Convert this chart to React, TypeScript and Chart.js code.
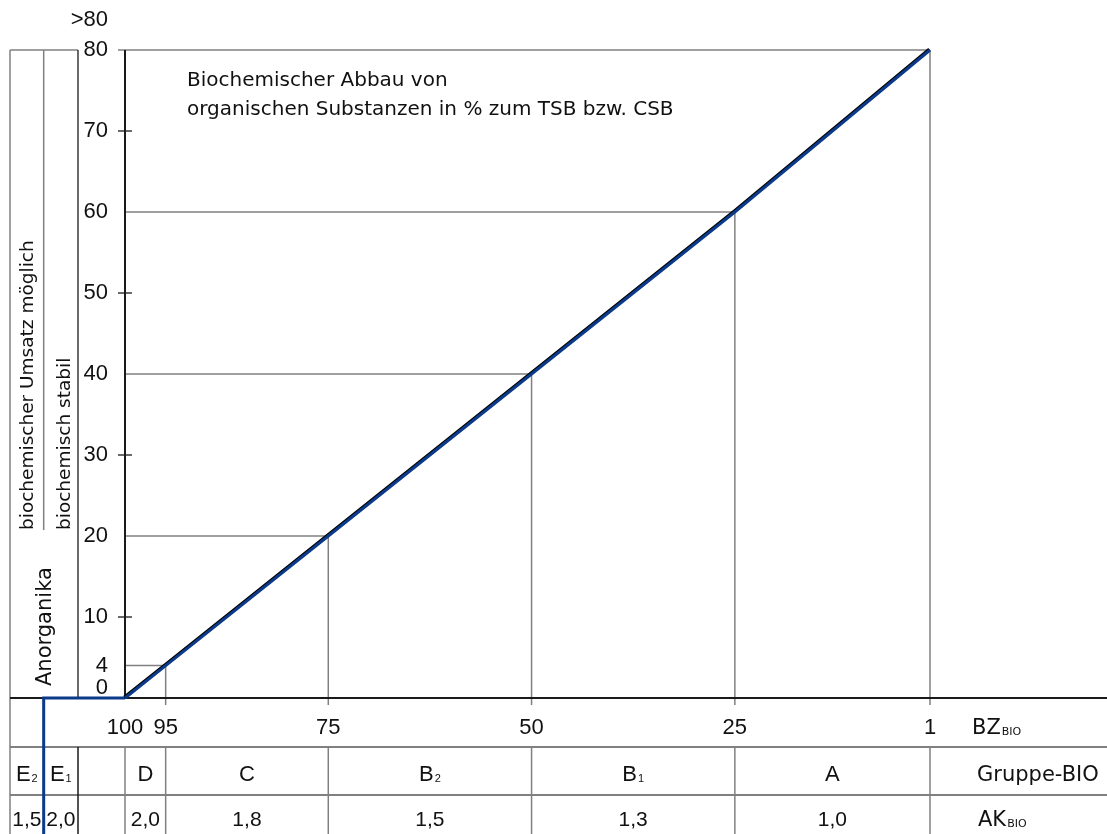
import React, { useEffect, useRef } from 'react';
import { Chart, registerables } from 'chart.js';

Chart.register(...registerables);

// ---- data ----
const bzValues = [100, 95, 75, 50, 25, 1];
const abbauPercent = [0, 4, 20, 40, 60, 80];
const anorgX = [110, 110, 100];
const anorgY = [-20, 0, 0];
const xTickValues = [100, 95, 75, 50, 25, 1];
const yTickValues = [4, 10, 20, 30, 40, 50, 60, 70, 80];
const yMinorTicks = [10, 30, 50, 70];
const groupNames = ['D', 'C', 'B_2', 'B_1', 'A'];
const akValues = ['2,0', '1,8', '1,5', '1,3', '1,0'];
const eGroupNames = ['E_2', 'E_1'];
const eAkValues = ['1,5', '2,0'];
const titleLines = ['Biochemischer Abbau von', 'organischen Substanzen in % zum TSB bzw. CSB'];

const FONT = '"DejaVu Sans", sans-serif';
const NUMFONT = '"Liberation Sans", Arial, sans-serif';
const GRAY = '#808080';
const BLACK = '#1a1a1a';
const BLUE = '#0b3a8a';

function line(ctx: CanvasRenderingContext2D, x1: number, y1: number, x2: number, y2: number, color: string, w: number) {
  ctx.save();
  ctx.strokeStyle = color;
  ctx.lineWidth = w;
  ctx.beginPath();
  ctx.moveTo(x1, y1);
  ctx.lineTo(x2, y2);
  ctx.stroke();
  ctx.restore();
}

function drawSub(ctx: CanvasRenderingContext2D, label: string, x: number, cy: number, size: number, align: 'center' | 'left', family: string) {
  const [base, sub] = label.split('_');
  ctx.save();
  ctx.fillStyle = '#111';
  ctx.textBaseline = 'alphabetic';
  ctx.textAlign = 'left';
  ctx.font = `${size}px ${family}`;
  const bw = ctx.measureText(base).width;
  const subSize = Math.round(size * 0.5);
  ctx.font = `${subSize}px ${family}`;
  const sw = sub ? ctx.measureText(sub).width : 0;
  const total = bw + (sub ? sw + 1 : 0);
  const sx = align === 'center' ? x - total / 2 : x;
  const baseline = cy + size * 0.36;
  ctx.font = `${size}px ${family}`;
  ctx.fillText(base, sx, baseline);
  if (sub) {
    ctx.font = `${subSize}px ${family}`;
    ctx.fillText(sub, sx + bw + 1, baseline + 1);
  }
  ctx.restore();
}

const framePlugin = {
  id: 'frame',
  beforeDatasetsDraw(chart: any) {
    const ctx: CanvasRenderingContext2D = chart.ctx;
    const xs = chart.scales.x;
    const ys = chart.scales.y;
    const X = (v: number) => xs.getPixelForValue(v);
    const Y = (v: number) => ys.getPixelForValue(v);
    const ca = chart.chartArea;
    const W = chart.width;
    const H = chart.height;
    const leftEdge = 10;
    const row1 = ca.bottom;
    const row2 = ca.bottom + 49;
    const row3 = ca.bottom + 97;
    const boxRight = 78;

    // reference lines
    for (let i = 1; i < bzValues.length; i++) {
      const px = X(bzValues[i]);
      const py = Y(abbauPercent[i]);
      const startX = i === bzValues.length - 1 ? ca.left - 7 : X(100);
      line(ctx, startX, py, px, py, GRAY, 1.5);
      line(ctx, px, py, px, row1 + 7, GRAY, 1.5);
    }
    // y axis ticks
    yMinorTicks.forEach((v) => line(ctx, ca.left - 7, Y(v), ca.left + 7, Y(v), BLACK, 1.3));
    // y axis
    line(ctx, X(100), Y(80), X(100), Y(0), BLACK, 2);

    // left box
    line(ctx, leftEdge, Y(80), boxRight, Y(80), GRAY, 1.5);
    line(ctx, leftEdge, Y(80), leftEdge, H, GRAY, 1.5);
    line(ctx, X(110), Y(80), X(110), 530, GRAY, 1.5);
    line(ctx, boxRight, Y(80), boxRight, row1, BLACK, 1.3);

    // table rows
    line(ctx, leftEdge, row2, W, row2, GRAY, 2);
    line(ctx, leftEdge, row3, W, row3, GRAY, 2);
    // table columns
    const cols = [X(110), boxRight, ...bzValues.map((v) => X(v))];
    cols.forEach((cx, i) => line(ctx, cx, row2, cx, H, i === 1 ? BLACK : GRAY, 1.5));
    // x baseline
    line(ctx, leftEdge, row1, W, row1, BLACK, 2.2);
  },
  beforeDatasetDraw(chart: any, args: any) {
    if (args.index === 0) {
      const ctx = chart.ctx;
      ctx.save();
      ctx.shadowColor = '#000';
      ctx.shadowOffsetX = -0.8;
      ctx.shadowOffsetY = -0.8;
      ctx.shadowBlur = 0;
    }
  },
  afterDatasetDraw(chart: any, args: any) {
    if (args.index === 0) chart.ctx.restore();
  },
  afterDraw(chart: any) {
    const ctx: CanvasRenderingContext2D = chart.ctx;
    const xs = chart.scales.x;
    const ys = chart.scales.y;
    const X = (v: number) => xs.getPixelForValue(v);
    const Y = (v: number) => ys.getPixelForValue(v);
    const ca = chart.chartArea;
    const row1 = ca.bottom;
    const boxRight = 78;
    const leftEdge = 10;

    ctx.save();
    ctx.fillStyle = '#111';
    // extra y labels
    ctx.font = `22px ${NUMFONT}`;
    ctx.textAlign = 'right';
    ctx.textBaseline = 'middle';
    ctx.fillText('>80', ca.left - 17, Y(80) - 30);
    ctx.fillText('0', ca.left - 17, Y(0) - 10);

    // title
    ctx.textAlign = 'left';
    ctx.font = `20px ${FONT}`;
    ctx.fillText(titleLines[0], 187, 81);
    ctx.fillText(titleLines[1], 187, 110);

    // rotated labels
    const rot = (text: string, x: number, y: number, size: number) => {
      ctx.save();
      ctx.translate(x, y);
      ctx.rotate(-Math.PI / 2);
      ctx.textAlign = 'left';
      ctx.textBaseline = 'alphabetic';
      ctx.font = `${size}px ${FONT}`;
      ctx.fillText(text, 0, 0);
      ctx.restore();
    };
    rot('biochemischer Umsatz möglich', 33, 530, 18.5);
    rot('biochemisch stabil', 70, 530, 18.5);
    rot('Anorganika', 51, 686, 21);
    ctx.restore();

    // table texts
    const r1 = row1 + 28;
    const r2 = row1 + 75;
    const r3 = row1 + 120;
    drawSub(ctx, 'BZ_BIO', 972, r1, 21, 'left', FONT);
    drawSub(ctx, 'Gruppe-BIO', 977, r2, 21, 'left', FONT);
    drawSub(ctx, 'AK_BIO', 978, r3, 21, 'left', FONT);

    const eCols = [leftEdge, X(110), boxRight];
    eGroupNames.forEach((g, i) => {
      const cx = (eCols[i] + eCols[i + 1]) / 2;
      drawSub(ctx, g, cx, r2, 22, 'center', NUMFONT);
      drawSub(ctx, eAkValues[i], cx, r3, 21, 'center', NUMFONT);
    });
    groupNames.forEach((g, i) => {
      const cx = (X(bzValues[i]) + X(bzValues[i + 1])) / 2;
      drawSub(ctx, g, cx, r2, 22, 'center', NUMFONT);
      drawSub(ctx, akValues[i], cx, r3, 21, 'center', NUMFONT);
    });
  },
};

export default function App() {
  const ref = useRef<HTMLCanvasElement | null>(null);
  useEffect(() => {
    if (!ref.current) return;
    const chart = new Chart(ref.current, {
      type: 'line',
      data: {
        datasets: [
          {
            data: bzValues.map((x, i) => ({ x, y: abbauPercent[i] })),
            borderColor: BLUE,
            borderWidth: 3,
            pointRadius: 0,
            fill: false,
            clip: false as any,
          },
          {
            data: anorgX.map((x, i) => ({ x, y: anorgY[i] })),
            borderColor: BLUE,
            borderWidth: 3,
            pointRadius: 0,
            fill: false,
            clip: false as any,
          },
        ],
      },
      options: {
        animation: false,
        responsive: true,
        maintainAspectRatio: false,
        layout: { padding: { top: 50, right: 177, left: 0, bottom: 0 } },
        plugins: { legend: { display: false }, tooltip: { enabled: false }, title: { display: false } },
        scales: {
          x: {
            type: 'linear',
            reverse: true,
            min: 1,
            max: 100,
            position: 'bottom',
            afterFit: (s: any) => { s.height = 136; },
            afterBuildTicks: (s: any) => { s.ticks = xTickValues.map((v) => ({ value: v })); },
            grid: { display: false },
            border: { display: false },
            ticks: {
              padding: 9,
              autoSkip: false,
              maxRotation: 0,
              color: '#111',
              font: { family: NUMFONT, size: 22 },
              callback: (v: any) => String(v),
            },
          },
          y: {
            type: 'linear',
            min: 0,
            max: 80,
            afterFit: (s: any) => { s.width = 125; },
            afterBuildTicks: (s: any) => { s.ticks = yTickValues.map((v) => ({ value: v })); },
            grid: { display: false },
            border: { display: false },
            ticks: {
              padding: 9,
              autoSkip: false,
              color: '#111',
              font: { family: NUMFONT, size: 22 },
              callback: (v: any) => String(v),
            },
          },
        },
      } as any,
      plugins: [framePlugin],
    });
    return () => chart.destroy();
  }, []);
  return (
    <div style={{ position: 'absolute', left: 0, top: 0, width: 1107, height: 834, background: '#fff' }}>
      <canvas ref={ref} />
    </div>
  );
}
